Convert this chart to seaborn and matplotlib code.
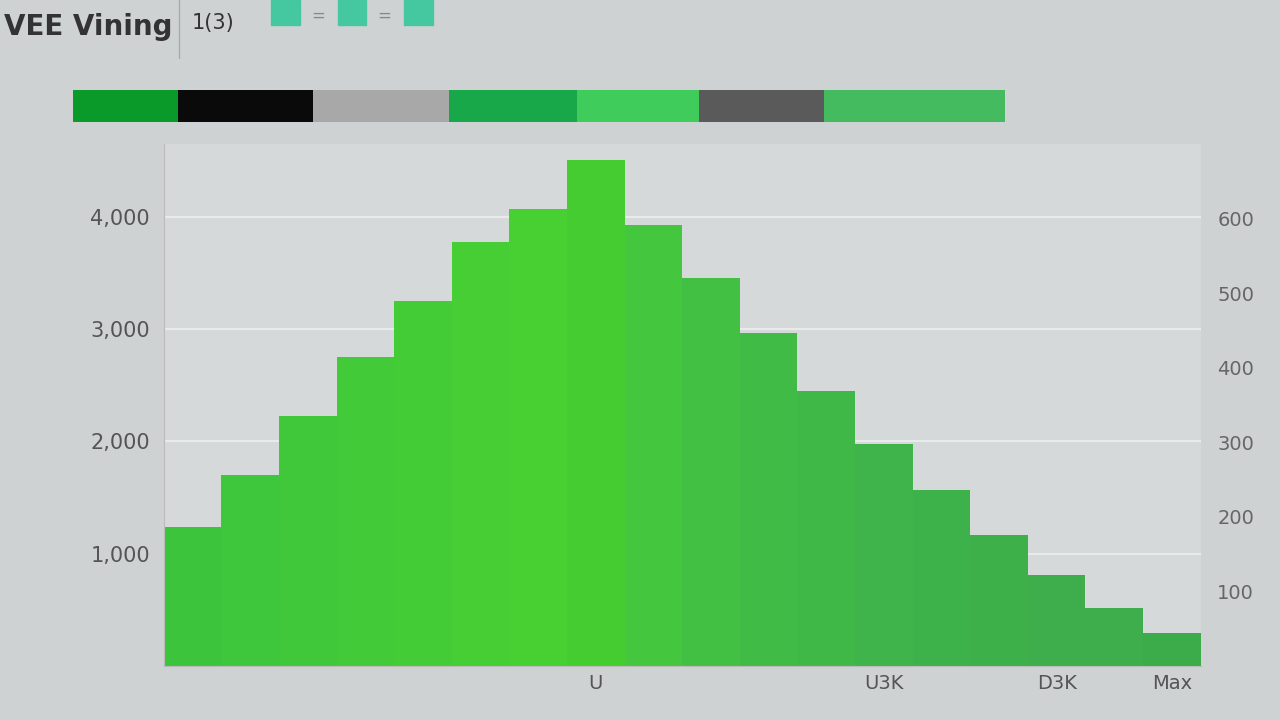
import matplotlib
matplotlib.use('Agg')
import matplotlib.pyplot as plt
import seaborn as sns
import pandas as pd
import numpy as np

# data
bins = [f"b{i}" for i in range(1, 19)]
counts = [1240, 1700, 2230, 2750, 3250, 3780, 4070, 4510, 3930,
          3460, 2970, 2450, 1980, 1570, 1170, 810, 520, 290]
bar_colors = ['#3cc43c', '#3ec63c', '#40c83a', '#42ca38', '#44cc36', '#46ce34',
              '#48d032', '#44cc30', '#44c63e', '#42c044', '#40bc46', '#40b848',
              '#3fb44a', '#3eb24a', '#3eb04a', '#3dae4b', '#3dae4b', '#3cac4a']
y_ticks = [1000, 2000, 3000, 4000]
y_labels = ['1,000', '2,000', '3,000', '4,000']
right_labels = ['600', '500', '400', '300', '200', '100']
x_label_pos = [7, 12, 15, 17]
x_labels = ['U', 'U3K', 'D3K', 'Max']

strip_widths = [105, 135, 135, 128, 122, 125, 180]
strip_colors = ['#0a9a2a', '#0a0a0a', '#a8a8a8', '#18a84a', '#40cc5a', '#5a5a5a', '#45bb60']

title = 'VEE Vining'
subtitle = '1(3)'

sns.set_style('white')
plt.rcParams['font.family'] = ['DejaVu Sans']

bg = '#cfd2d3'
fig = plt.figure(figsize=(12.8, 7.2), dpi=100)
fig.patch.set_facecolor(bg)

# header
fig.text(0.003, 0.962, title, fontsize=20, fontweight='bold', color='#333333', va='center')
fig.add_artist(plt.Line2D([0.14, 0.14], [0.92, 1.0], color='#aaaaaa', lw=1))
fig.text(0.15, 0.968, subtitle, fontsize=15, color='#333333', va='center')
for i, xpos in enumerate([0.212, 0.264, 0.316]):
    fig.add_artist(plt.Rectangle((xpos, 0.965), 0.022, 0.035, color='#45c8a0'))
    if i < 2:
        fig.text(xpos + 0.031, 0.978, '=', fontsize=12, color='#888888', va='center')

# color strip
ax_strip = fig.add_axes([0.057, 0.83, 0.728, 0.045])
left = 0
for w, c in zip(strip_widths, strip_colors):
    ax_strip.barh(0, w, left=left, color=c, height=1.0, linewidth=0)
    left += w
ax_strip.set_xlim(0, sum(strip_widths))
ax_strip.set_ylim(-0.5, 0.5)
ax_strip.axis('off')

# main histogram
ax = fig.add_axes([0.128, 0.075, 0.81, 0.725])
ax.set_facecolor('#d6d9da')
df = pd.DataFrame({'bin': bins, 'count': counts})
sns.barplot(data=df, x='bin', y='count', hue='bin', palette=bar_colors,
            legend=False, width=1.0, saturation=1, linewidth=0, ax=ax)
ax.set_ylim(0, 4650)
ax.set_yticks(y_ticks)
ax.set_yticklabels(y_labels, fontsize=15, color='#555555')
ax.yaxis.grid(True, color='#eeeeee', lw=1.2)
ax.set_axisbelow(True)
ax.set_xticks(x_label_pos)
ax.set_xticklabels(x_labels, fontsize=14, color='#555555')
ax.tick_params(axis='x', length=0, pad=6)
ax.tick_params(axis='y', length=0, pad=10)
ax.set_xlabel('')
ax.set_ylabel('')
for s in ['top', 'right']:
    ax.spines[s].set_visible(False)
ax.spines['left'].set_color('#bbbbbb')
ax.spines['bottom'].set_color('#bbbbbb')

ax2 = ax.twinx()
ax2.set_ylim(0, 700)
ax2.set_yticks([600, 500, 400, 300, 200, 100])
ax2.set_yticklabels(right_labels, fontsize=14, color='#666666')
ax2.tick_params(length=0, pad=12)
for s in ax2.spines.values():
    s.set_visible(False)

fig.savefig('out.png', dpi=100, facecolor=bg)
